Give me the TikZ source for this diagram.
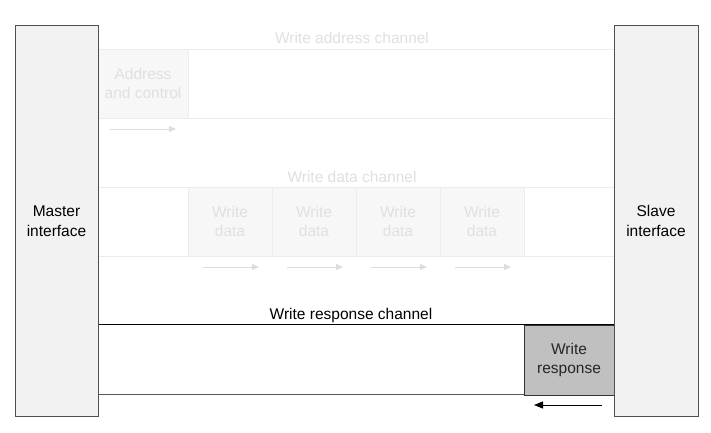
\documentclass[tikz,border=0pt]{standalone}
\usepackage{fontspec}
\setmainfont{Liberation Sans}
\usetikzlibrary{arrows.meta}
\definecolor{ifill}{HTML}{F2F2F2}
\definecolor{iborder}{HTML}{505050}
\definecolor{fadefill}{HTML}{F7F7F7}
\definecolor{fadeline}{HTML}{ECECEC}
\definecolor{fadetext}{HTML}{E0E0E0}
\definecolor{fadearrow}{HTML}{DDDDDD}
\definecolor{respfill}{HTML}{C0C0C0}
\tikzset{
  iface/.style={draw=iborder, line width=1pt, fill=ifill, inner sep=0pt, text width=80pt, align=center, font=\fontsize{15.5pt}{19.5pt}\selectfont},
  fadebox/.style={draw=fadeline, fill=fadefill, inner sep=0pt, align=center, text=fadetext, font=\fontsize{15.5pt}{19.5pt}\selectfont},
  fadelabel/.style={text=fadetext, font=\fontsize{15.5pt}{18pt}\selectfont, inner sep=0pt},
  fadechan/.style={draw=fadeline, line width=0.8pt},
  fadearr/.style={draw=fadearrow, line width=0.8pt, -{Triangle[length=7pt,width=6pt]}},
  resplabel/.style={font=\fontsize{15.5pt}{18pt}\selectfont, inner sep=0pt},
  respbox/.style={draw=black!80, line width=0.8pt, fill=respfill, inner sep=0pt, align=center, font=\fontsize{15.5pt}{19.5pt}\selectfont, text=black!85},
  resparr/.style={draw=black, line width=1pt, -{Triangle[length=9pt,width=7pt]}}
}
\begin{document}
\begin{tikzpicture}[x=1pt,y=-1pt]
\useasboundingbox (0,0) rectangle (711,433);
\fill[white] (0,0) rectangle (711,433);

% write address channel (faded)
\node[fadelabel] (wachan) at (352,38) {Write address channel};
\coordinate (wa1l) at (98,49); \coordinate (wa1r) at (614,49);
\coordinate (wa2l) at (98,118); \coordinate (wa2r) at (614,118);
\draw[fadechan] (wa1l) -- (wa1r);
\draw[fadechan] (wa2l) -- (wa2r);
\node[fadebox, minimum width=90pt, minimum height=69pt] (addr) at (143,83.5) {Address\\and control};
\coordinate (aas) at (110,129); \coordinate (aae) at (176,129);
\draw[fadearr] (aas) -- (aae);

% write data channel (faded)
\node[fadelabel] (wdchan) at (352,177) {Write data channel};
\coordinate (wd1l) at (98,187); \coordinate (wd1r) at (614,187);
\coordinate (wd2l) at (98,256); \coordinate (wd2r) at (614,256);
\draw[fadechan] (wd1l) -- (wd1r);
\draw[fadechan] (wd2l) -- (wd2r);
\foreach \i/\cx in {1/230,2/314,3/398,4/482}{
  \node[fadebox, minimum width=84pt, minimum height=69pt] (wd\i) at (\cx,221.5) {Write\\data};
  \coordinate (da\i s) at (\cx-27,267);
  \coordinate (da\i e) at (\cx+29,267);
  \draw[fadearr] (da\i s) -- (da\i e);
}

% write response channel
\node[resplabel] (wrchan) at (351,315) {Write response channel};
\coordinate (wr1l) at (98,324); \coordinate (wr1r) at (614,324);
\coordinate (wr2l) at (98,394); \coordinate (wr2r) at (614,394);
\draw[black, line width=1pt] (wr1l) -- (wr1r);
\draw[black!65, line width=1pt] (wr2l) -- (wr2r);
\node[respbox, minimum width=90pt, minimum height=70pt] (wresp) at (569,360) {Write\\response};
\coordinate (ras) at (602,405); \coordinate (rae) at (534,405);
\draw[resparr] (ras) -- (rae);

% interfaces
\node[iface, minimum width=83pt, minimum height=390pt] (master) at (56.5,221) {Master\\interface};
\node[iface, minimum width=84pt, minimum height=390pt] (slave) at (656,221) {Slave\\interface};
\end{tikzpicture}
\end{document}
